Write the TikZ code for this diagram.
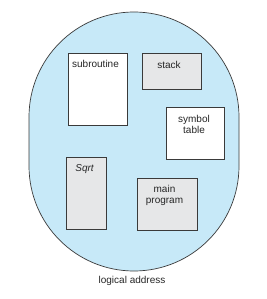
\documentclass[tikz,border=0pt]{standalone}
\usepackage{fontspec}
\setmainfont{Liberation Sans}
\usetikzlibrary{positioning}
\definecolor{space}{HTML}{C7E9F8}
\definecolor{seg}{HTML}{E6E7E8}
\definecolor{edge}{HTML}{3A3A3A}

\begin{document}
\begin{tikzpicture}[
  x=1pt,y=-1pt,
  font=\fontsize{10}{11.5}\selectfont,
  area/.style={draw=edge,fill=space,line width=0.7pt,rounded corners=105pt,minimum width=210pt,minimum height=259pt,inner sep=0pt},
  blank/.style={draw=edge,fill=white,line width=0.9pt,inner sep=0pt},
  grey/.style={draw=edge,fill=seg,line width=0.9pt,inner sep=0pt},
  txt/.style={inner sep=0pt,align=center,text=black!85},
]
\useasboundingbox (0,0) rectangle (266,299);
\node[area] (la) at (134,141.5) {};
\node[blank,minimum width=59pt,minimum height=72pt] (sub) at (97.5,89) {};
\node[grey,minimum width=59pt,minimum height=36pt] (stk) at (171.5,71) {};
\node[blank,minimum width=58pt,minimum height=52pt] (sym) at (195,133) {};
\node[grey,minimum width=40pt,minimum height=72pt] (sqrt) at (86,193) {};
\node[grey,minimum width=60pt,minimum height=52pt] (mainp) at (167,204) {};
% labels
\node[txt,below=8pt of sub.north,xshift=-2pt] (subt) {subroutine};
\node[txt,below=8.5pt of stk.north,xshift=-2.5pt] (stkt) {stack};
\node[txt,below=8.5pt of sym.north,xshift=-1pt] (symt) {symbol\\table};
\node[txt,below=8pt of sqrt.north,xshift=-1.5pt] (sqrtt) {\itshape Sqrt};
\node[txt,below=7.5pt of mainp.north,xshift=-2.5pt] (maint) {main\\program};
\node[txt] (lat) at (132,281) {logical address};
\end{tikzpicture}
\end{document}
